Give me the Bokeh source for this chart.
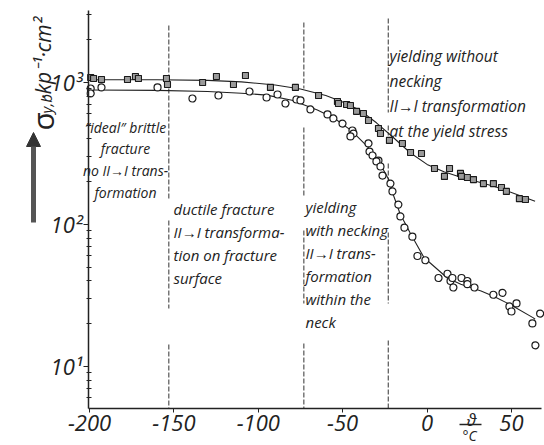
import math
from bokeh.plotting import figure
from bokeh.models import Label, Arrow, NormalHead, FixedTicker, Range1d
from bokeh.embed import file_html
from bokeh.resources import INLINE

# ---------------- data ----------------
# upper series (square markers)
upper_t = [-199.3, -197.6, -192.9, -177.5, -172.8, -171.0, -154.4, -153.8, -133.0, -124.8,
           -114.7, -107.6, -92.8, -78.0, -64.3, -53.1, -52.5, -47.7, -45.4, -41.8,
           -37.7, -34.7, -28.8, -27.6, -22.3, -14.6, -9.8, -3.3, 4.4, 10.3,
           13.3, 19.8, 20.4, 23.9, 27.5, 33.4, 39.3, 44.1, 47.0, 54.7, 58.3]
upper_s = [1084, 1067, 1050, 1050, 1102, 1067, 1067, 968, 1000, 1102,
           968, 1120, 923, 923, 810, 735, 711, 700, 688, 626,
           605, 540, 474, 437, 391, 372, 321, 316, 248, 218,
           248, 229, 218, 214, 207, 194, 194, 182, 171, 152, 150]

# lower series (circle markers)
lower_t = [-199.3, -199.3, -192.9, -159.7, -139.0, -123.6, -105.2, -95.1, -88.6, -83.9,
           -77.4, -75.0, -69.1, -59.0, -55.5, -50.1, -44.2, -43.6, -45.4, -34.7,
           -34.1, -32.3, -28.8, -30.0, -27.6, -26.4, -21.7, -20.5, -17.0, -15.8,
           -13.4, -8.7, -5.7, -1.0, 6.8, 12.1, 13.9, 15.0, 15.6, 20.4,
           23.9, 23.9, 28.1, 39.3, 44.7, 48.8, 50.0, 53.0, 62.4, 67.0, 64.2]
lower_s = [907, 837, 923, 923, 771, 810, 864, 784, 823, 711,
           759, 747, 646, 596, 558, 514, 459, 437, 417, 372,
           326, 306, 282, 278, 256, 221, 194, 171, 138, 114,
           95, 82, 60, 56, 42, 45, 40, 42, 36, 42,
           40, 38, 36, 32, 33, 26.5, 24.4, 27.8, 20.1, 23.6, 14.1]

# drawn curves
upper_fit_t = [-200, -160, -130, -110, -90, -75, -60, -50, -40, -30, -20, -10, 0, 10, 20, 30, 40, 50, 60, 64]
upper_fit_s = [1045, 1045, 1035, 1010, 960, 900, 810, 730, 640, 520, 410, 320, 265, 235, 215, 200, 185, 168, 152, 146]
lower_fit_t = [-200, -160, -130, -110, -95, -80, -65, -55, -45, -35, -28, -22, -20.5, -16, -10, -2, 0, 12, 20, 32, 40, 50, 63, 64]
lower_fit_s = [885, 880, 865, 840, 815, 750, 640, 560, 460, 350, 270, 200, 168, 119, 87, 59, 56, 42, 38, 34, 31, 27, 22, 21.5]

# regime boundaries (temperature, degC)
boundary_t = [-153, -73, -23]

x_ticks = [-200, -150, -100, -50, 0, 50]
x_tick_labels = ["-200", "-150", "-100", "-50", "0", "50"]
y_ticks = [10, 100, 1000]
y_tick_labels = ["10\u00b9", "10\u00b2", "10\u00b3"]

regime_texts = [
    "\u2033ideal\u2033 brittle\nfracture\nno II\u2192I trans-\nformation",
    "ductile fracture\nII\u2192I  transforma-\ntion on fracture\nsurface",
    "yielding\nwith necking\nII\u2192I trans-\nformation\nwithin the\nneck",
    "yielding without\nnecking\nII\u2192I transformation\nat the yield stress",
]

# ---------------- layout ----------------
X0, X1 = -200.6, 67.8          # extent of the drawn axes
Y0, Y1 = 5.06, 3213.0
FL, FR, FT, FB = 88, 541, 10, 408   # axis box in page pixels
PL, PR, PT, PB = 0, 544, 0, 445     # canvas in page pixels


def px_x(px):
    return X0 + (px - FL) / (FR - FL) * (X1 - X0)


def px_y(py):
    l0, l1 = math.log10(Y0), math.log10(Y1)
    return 10 ** (l1 - (py - FT) / (FB - FT) * (l1 - l0))


FONT = "Open Sans"
INK = "#222222"

p = figure(width=PR - PL, height=PB - PT,
           x_range=Range1d(px_x(PL), px_x(PR)), y_range=Range1d(px_y(PB), px_y(PT)),
           y_axis_type="log", output_backend="svg", toolbar_location=None,
           min_border_left=0, min_border_right=0, min_border_top=0, min_border_bottom=0)
p.outline_line_color = None
p.xgrid.visible = False
p.ygrid.visible = False
p.background_fill_color = "white"
p.border_fill_color = "white"

# axes (placed at the edges of the data box)
xa = p.xaxis[0]
xa.fixed_location = Y0
xa.bounds = (X0, X1)
xa.ticker = FixedTicker(ticks=x_ticks)
xa.major_label_overrides = dict(zip(x_ticks, x_tick_labels))
xa.major_label_text_font = FONT
xa.major_label_text_font_style = "italic"
xa.major_label_text_font_size = "22px"
xa.major_label_text_color = INK
xa.major_label_standoff = 2
xa.major_tick_out = 4
xa.major_tick_in = 0
xa.minor_tick_out = 0
xa.axis_line_width = 1.5
xa.axis_line_color = INK
xa.major_tick_line_color = INK

minor = [m * 10 ** e for e in range(0, 4) for m in range(2, 10) if Y0 < m * 10 ** e < Y1]
ya = p.yaxis[0]
ya.fixed_location = X0
ya.bounds = (Y0, Y1)
ya.ticker = FixedTicker(ticks=y_ticks, minor_ticks=minor)
ya.major_label_overrides = dict(zip(y_ticks, y_tick_labels))
ya.major_label_text_font = FONT
ya.major_label_text_font_style = "italic"
ya.major_label_text_font_size = "22px"
ya.major_label_text_color = INK
ya.major_label_standoff = 1
ya.major_tick_out = 5
ya.major_tick_in = 0
ya.minor_tick_out = 2
ya.minor_tick_in = 3
ya.axis_line_width = 1.5
ya.axis_line_color = INK
ya.major_tick_line_color = INK
ya.minor_tick_line_color = INK

# regime boundary lines (broken where the text sits)
gaps = [
    [(25, 200), (220, 308), (344, FB)],
    [(22, 88), (127, 196), (230, 303), (343, FB)],
    [(18, 112), (125, 135), (163, 182), (232, 303), (340, FB)],
]
xs, ys = [], []
for t, segs in zip(boundary_t, gaps):
    for a, b in segs:
        xs.append([t, t])
        ys.append([px_y(a), px_y(b)])
p.multi_line(xs, ys, line_color="#333333", line_width=1, line_dash="5 2")

# curves
p.line(upper_fit_t, upper_fit_s, line_color="#222222", line_width=1.1)
p.line(lower_fit_t, lower_fit_s, line_color="#222222", line_width=1.1)

# points
p.scatter(upper_t, upper_s, marker="square", size=6, fill_color="#9a9a9a",
          line_color="#1a1a1a", line_width=1.1)
p.scatter(lower_t, lower_s, marker="circle", size=7, fill_color="#ffffff",
          line_color="#1a1a1a", line_width=1.2)

# regime texts
anchors = [(125, 117, "center", "14px"), (173, 198, "left", "15px"),
           (305, 196, "left", "15px"), (389, 44, "left", "15.5px")]
for txt, (ax, ay, al, fs) in zip(regime_texts, anchors):
    p.add_layout(Label(x=px_x(ax), y=px_y(ay), text=txt, text_align=al,
                       text_baseline="top", text_font=FONT, text_font_style="italic",
                       text_font_size=fs, text_color=INK, text_line_height=1.15))

# y-axis label (rotated) with arrow
p.add_layout(Label(x=px_x(42), y=px_y(130), text="\u03c3", angle=math.pi / 2,
                   text_align="left", text_baseline="alphabetic", text_font=FONT,
                   text_font_size="30px", text_color=INK))
p.add_layout(Label(x=px_x(45), y=px_y(113), text="y,b", angle=math.pi / 2,
                   text_align="left", text_baseline="alphabetic", text_font=FONT,
                   text_font_style="italic", text_font_size="15px", text_color=INK))
p.add_layout(Label(x=px_x(42), y=px_y(99), text="\u00b7kp\u207b\u00b9\u00b7cm\u00b2",
                   angle=math.pi / 2, text_align="left", text_baseline="alphabetic",
                   text_font=FONT, text_font_style="italic", text_font_size="21px",
                   text_color=INK))
p.add_layout(Arrow(end=NormalHead(size=14, fill_color="#333333", line_color="#333333"),
                   x_start=px_x(33), y_start=px_y(222), x_end=px_x(33), y_end=px_y(132),
                   line_width=5, line_color="#555555"))

# x unit: theta over degC
p.add_layout(Label(x=px_x(471), y=px_y(407), text="\u03d1", text_align="center",
                   text_baseline="top", text_font=FONT, text_font_style="italic",
                   text_font_size="17px", text_color=INK))
p.add_layout(Arrow(start=None, end=None, x_start=px_x(459), x_end=px_x(481),
                   y_start=px_y(424), y_end=px_y(424), line_width=1.5, line_color=INK))
p.add_layout(Label(x=px_x(469), y=px_y(425), text="\u00b0C", text_align="center",
                   text_baseline="top", text_font=FONT, text_font_style="italic",
                   text_font_size="14px", text_color=INK))

open("out.html", "w").write(file_html(p, INLINE))
